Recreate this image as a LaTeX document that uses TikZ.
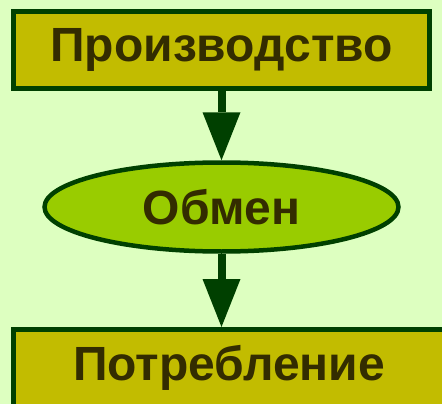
\documentclass[tikz,border=0pt]{standalone}
\usepackage{fontspec}
\setmainfont{Liberation Sans}
\usetikzlibrary{shapes.geometric,arrows.meta}
\definecolor{bgGreen}{RGB}{221,255,192}
\definecolor{boxOlive}{RGB}{194,188,0}
\definecolor{ovalGreen}{RGB}{153,204,0}
\definecolor{edgeGreen}{RGB}{0,64,0}
\definecolor{textBrown}{RGB}{51,44,0}
\tikzset{
  stage/.style={rectangle, draw=edgeGreen, fill=boxOlive, line width=5pt,
    minimum height=77pt, inner sep=0pt, text=textBrown,
    font=\fontsize{48pt}{52pt}\selectfont\bfseries},
  exchange/.style={ellipse, draw=edgeGreen, fill=ovalGreen, line width=4.5pt,
    minimum width=354pt, minimum height=89pt, inner sep=0pt, text=textBrown,
    font=\fontsize{48pt}{52pt}\selectfont\bfseries},
  flow/.style={color=edgeGreen, line width=8pt,
    -{Triangle[length=48pt,width=38pt,line width=0pt]}}
}
\begin{document}
\begin{tikzpicture}[x=1pt,y=1pt]
  \clip (0,0) rectangle (442,-404);
  \fill[bgGreen] (0,0) rectangle (442,-404);
  \node[stage, minimum width=416pt] (prod) at (221.5,-50) {Производство};
  \node[exchange] (obmen) at (221.5,-207) {Обмен};
  \node[stage, minimum width=431pt] (potr) at (229,-368) {Потребление};
  \draw[flow] (prod.south -| obmen.north) -- (obmen.north);
  \draw[flow] (obmen.south) -- (obmen.south |- potr.north);
\end{tikzpicture}
\end{document}
